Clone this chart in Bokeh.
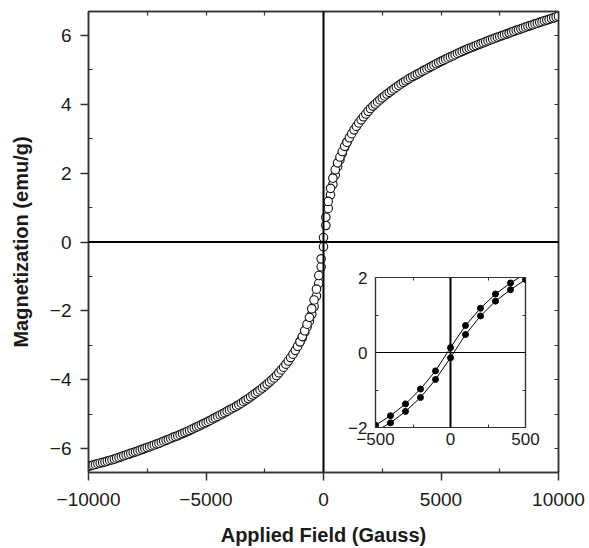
from bokeh.plotting import figure
from bokeh.models import FixedTicker, LinearAxis, Span, Range1d, Spacer
from bokeh.layouts import column, row
from bokeh.embed import file_html
from bokeh.resources import INLINE

FONT = "Liberation Sans"

# ---------------- data ----------------
# Applied field grid (Gauss), measurement step 100 G
h_outer_neg = list(range(-10000, -1099, 100))
h_core = list(range(-1000, 1001, 100))
h_outer_pos = list(range(1100, 10001, 100))

m_outer_neg = [
    -6.52, -6.50, -6.48, -6.465, -6.445, -6.425, -6.41, -6.39, -6.37, -6.35,
    -6.33, -6.31, -6.285, -6.265, -6.24, -6.215, -6.19, -6.17, -6.145, -6.12,
    -6.10, -6.075, -6.05, -6.025, -6.00, -5.975, -5.95, -5.925, -5.90, -5.875,
    -5.85, -5.82, -5.79, -5.765, -5.74, -5.71, -5.68, -5.655, -5.63, -5.60,
    -5.57, -5.54, -5.51, -5.48, -5.445, -5.41, -5.38, -5.35, -5.315, -5.28,
    -5.25, -5.215, -5.18, -5.14, -5.105, -5.07, -5.03, -4.995, -4.96, -4.92,
    -4.88, -4.845, -4.81, -4.77, -4.73, -4.685, -4.64, -4.595, -4.55, -4.50,
    -4.45, -4.40, -4.35, -4.30, -4.245, -4.19, -4.13, -4.07, -4.01, -3.95,
    -3.88, -3.80, -3.72, -3.64, -3.55, -3.46, -3.36, -3.26, -3.15, -3.03,
]

m_outer_pos = [
    3.03, 3.15, 3.26, 3.36, 3.46, 3.55, 3.64, 3.72, 3.80, 3.88,
    3.95, 4.01, 4.07, 4.13, 4.19, 4.245, 4.30, 4.35, 4.40, 4.45,
    4.50, 4.55, 4.595, 4.64, 4.685, 4.73, 4.77, 4.81, 4.845, 4.88,
    4.92, 4.96, 4.995, 5.03, 5.07, 5.105, 5.14, 5.18, 5.215, 5.25,
    5.28, 5.315, 5.35, 5.38, 5.41, 5.445, 5.48, 5.51, 5.54, 5.57,
    5.60, 5.63, 5.655, 5.68, 5.71, 5.74, 5.765, 5.79, 5.82, 5.85,
    5.875, 5.90, 5.925, 5.95, 5.975, 6.00, 6.025, 6.05, 6.075, 6.10,
    6.125, 6.15, 6.17, 6.195, 6.22, 6.245, 6.27, 6.29, 6.315, 6.34,
    6.36, 6.385, 6.405, 6.43, 6.45, 6.47, 6.495, 6.515, 6.54, 6.56,
]

# near-zero field: the two branches of the loop
m_core_desc = [-2.90, -2.75, -2.58, -2.39, -2.19, -1.94, -1.685, -1.37, -0.975, -0.49,
               0.13, 0.72, 1.18, 1.56, 1.855, 2.10, 2.30, 2.47, 2.63, 2.78, 2.90]
m_core_asc = [-2.90, -2.78, -2.63, -2.47, -2.30, -2.10, -1.875, -1.57, -1.20, -0.72,
              -0.14, 0.48, 0.975, 1.37, 1.675, 1.945, 2.19, 2.39, 2.58, 2.75, 2.90]

x_major = [-10000, -5000, 0, 5000, 10000]
x_minor = [-7500, -2500, 2500, 7500]
y_major = [-6, -4, -2, 0, 2, 4, 6]
y_minor = [-5, -3, -1, 1, 3, 5]

ix_major = [-500, 0, 500]
ix_minor = [-250, 250]
iy_major = [-2, 0, 2]
iy_minor = [-1, 1]


def lab(v):
    return str(v).replace("-", "\u2212")


AX = "#333333"
TXT = "#1a1a1a"
W, H = 589, 548

# ---------------- main figure ----------------
p = figure(width=W, height=H, x_range=Range1d(-10000, 10000), y_range=Range1d(-6.7, 6.7),
           output_backend="svg", toolbar_location=None,
           min_border_left=88, min_border_right=W - 558, min_border_top=11,
           min_border_bottom=H - 473)
p.xgrid.grid_line_color = None
p.ygrid.grid_line_color = None
p.outline_line_color = AX
p.outline_line_width = 1.5
p.background_fill_color = "white"
p.border_fill_color = "white"

xa = p.xaxis[0]
xa.ticker = FixedTicker(ticks=x_major, minor_ticks=x_minor)
xa.major_label_overrides = {v: lab(v) for v in x_major}
ya = p.yaxis[0]
ya.ticker = FixedTicker(ticks=y_major, minor_ticks=y_minor)
ya.major_label_overrides = {v: lab(v) for v in y_major}

for ax in (xa, ya):
    ax.axis_line_color = AX
    ax.axis_line_width = 1.5
    ax.major_tick_line_color = AX
    ax.minor_tick_line_color = AX
    ax.major_tick_line_width = 1.5
    ax.minor_tick_line_width = 1.2
    ax.major_tick_out = 8
    ax.major_tick_in = 0
    ax.minor_tick_out = 0
    ax.minor_tick_in = 4
    ax.major_label_text_font = FONT
    ax.major_label_text_font_size = "19px"
    ax.major_label_text_color = TXT
    ax.axis_label_text_font = FONT
    ax.axis_label_text_font_size = "20px"
    ax.axis_label_text_font_style = "bold"
    ax.axis_label_text_color = TXT

xa.axis_label = "Applied Field (Gauss)"
xa.major_label_standoff = 12
xa.axis_label_standoff = 15
ya.axis_label = "Magnetization (emu/g)"
ya.major_label_standoff = 9
ya.axis_label_standoff = 15

# top and right frame edges: tick marks only (inside), no labels
top = LinearAxis(ticker=FixedTicker(ticks=[], minor_ticks=x_major + x_minor))
right = LinearAxis(ticker=FixedTicker(ticks=[], minor_ticks=y_major + y_minor))
for ax in (top, right):
    ax.axis_line_color = AX
    ax.axis_line_width = 1.5
    ax.minor_tick_line_color = AX
    ax.minor_tick_line_width = 1.2
    ax.major_tick_out = 0
    ax.major_tick_in = 0
    ax.minor_tick_out = 0
    ax.minor_tick_in = 4
    ax.major_label_standoff = 0
p.add_layout(top, "above")
p.add_layout(right, "right")

p.add_layout(Span(location=0, dimension="height", line_color="black", line_width=2))
p.add_layout(Span(location=0, dimension="width", line_color="black", line_width=2))

mk = dict(size=8.5, marker="circle", line_color="#111111", fill_color="white", line_width=1.1)
p.scatter(h_outer_neg, m_outer_neg, **mk)
p.scatter(h_core, m_core_asc, **mk)
p.scatter(h_core, m_core_desc, **mk)
p.scatter(h_outer_pos, m_outer_pos, **mk)

# ---------------- inset ----------------
ins = figure(frame_width=150, frame_height=150, x_range=Range1d(-500, 500), y_range=Range1d(-2, 2),
             output_backend="svg", toolbar_location=None,
             min_border_left=35, min_border_right=15, min_border_top=10, min_border_bottom=25)
ins.xgrid.grid_line_color = None
ins.ygrid.grid_line_color = None
ins.outline_line_color = AX
ins.outline_line_width = 1.2
ins.background_fill_color = "white"
ins.border_fill_alpha = 0

ixa = ins.xaxis[0]
ixa.ticker = FixedTicker(ticks=ix_major, minor_ticks=ix_minor)
ixa.major_label_overrides = {v: lab(v) for v in ix_major}
iya = ins.yaxis[0]
iya.ticker = FixedTicker(ticks=iy_major, minor_ticks=iy_minor)
iya.major_label_overrides = {v: lab(v) for v in iy_major}
for ax in (ixa, iya):
    ax.axis_line_color = AX
    ax.axis_line_width = 1.2
    ax.major_tick_out = 0
    ax.major_tick_in = 0
    ax.minor_tick_out = 0
    ax.minor_tick_in = 3
    ax.minor_tick_line_color = AX
    ax.major_label_text_font = FONT
    ax.major_label_text_font_size = "17px"
    ax.major_label_text_color = TXT
ixa.major_label_standoff = 5
iya.major_label_standoff = 8

itop = LinearAxis(ticker=FixedTicker(ticks=[], minor_ticks=ix_minor))
iright = LinearAxis(ticker=FixedTicker(ticks=[], minor_ticks=iy_minor))
for ax in (itop, iright):
    ax.axis_line_color = AX
    ax.axis_line_width = 1.2
    ax.major_tick_out = 0
    ax.major_tick_in = 0
    ax.minor_tick_out = 0
    ax.minor_tick_in = 3
    ax.minor_tick_line_color = AX
    ax.major_label_standoff = 0
ins.add_layout(itop, "above")
ins.add_layout(iright, "right")

ins.add_layout(Span(location=0, dimension="height", line_color="black", line_width=2))
ins.add_layout(Span(location=0, dimension="width", line_color="black", line_width=1))

ins.line(h_core, m_core_desc, line_color="black", line_width=1)
ins.line(h_core, m_core_asc, line_color="black", line_width=1)
ins.scatter(h_core, m_core_desc, size=6, marker="circle", fill_color="black", line_color="black")
ins.scatter(h_core, m_core_asc, size=6, marker="circle", fill_color="black", line_color="black")

inset_row = row(Spacer(width=340, height=10), ins, spacing=0)
inset_row.margin = (267 - H, 0, 0, 0)

layout = column(p, inset_row, spacing=0)
open("out.html", "w").write(file_html(layout, INLINE))
